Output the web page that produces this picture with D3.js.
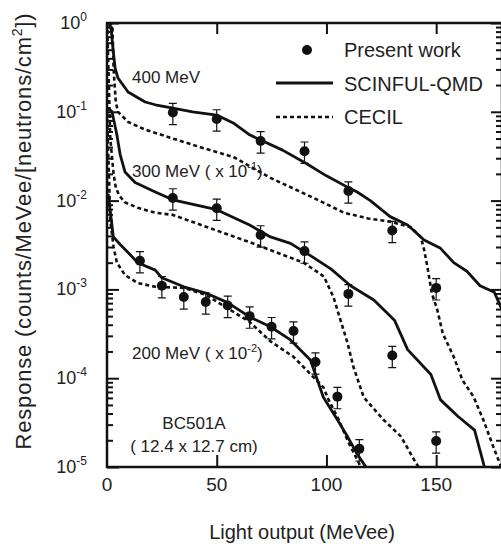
<!DOCTYPE html>
<html>
<head>
<meta charset="utf-8">
<script src="https://cdn.jsdelivr.net/npm/d3@7"></script>
<style>
body { margin: 0; background: #fff; }
text { font-family: "Liberation Sans", Arial, sans-serif; fill: #222; }
</style>
</head>
<body>
<script>
// canvas size and plot box
var width = 501;
var height = 545;
var boxLeft = 107, boxRight = 502, boxTop = 23, boxBottom = 467;

// measured points (Present work)
var pts400X = [30, 50, 70, 90, 110, 130, 150];
var pts400Y = [0.098, 0.083, 0.047, 0.036, 0.0128, 0.0046, 0.00104];
var pts300X = [30, 50, 70, 90, 110, 130, 150];
var pts300Y = [0.0107, 0.0082, 0.0041, 0.0027, 0.00089, 0.00018, 0.0000196];
var pts200X = [15, 25, 35, 45, 55, 65, 75, 85, 95, 105, 115];
var pts200Y = [0.0021, 0.0011, 0.00082, 0.00072, 0.00066, 0.0005, 0.00038, 0.00034, 0.000152, 0.000062, 0.000016];
var relErr = 0.27;

// SCINFUL-QMD curves
var qmd400X = [0, 2, 2.7, 3.7, 5, 9.6, 17.4, 22, 30, 39, 50, 57.5, 65, 70, 80, 91, 100, 110, 114, 120, 129, 137, 144.5, 152, 158, 164, 170, 176.5, 180];
var qmd400Y = [1.5, 0.8, 0.52, 0.31, 0.24, 0.167, 0.129, 0.12, 0.11, 0.1, 0.092, 0.075, 0.055, 0.048, 0.037, 0.026, 0.019, 0.014, 0.0125, 0.010, 0.0066, 0.0053, 0.0036, 0.0029, 0.002, 0.0016, 0.0011, 0.00093, 0.00059];
var qmd300X = [0.5, 2.3, 4.5, 6, 8.2, 12.8, 22, 30, 50, 65, 74.5, 83.6, 92.7, 102, 111, 121.6, 131, 137, 147.6, 152, 160, 167.5, 172];
var qmd300Y = [0.11, 0.1, 0.055, 0.033, 0.021, 0.016, 0.0125, 0.0102, 0.0079, 0.0053, 0.0039, 0.0033, 0.0024, 0.0017, 0.0011, 0.00076, 0.00045, 0.00021, 0.00011, 0.000057, 0.000037, 0.000026, 0.00001];
var qmd200X = [0.5, 2.9, 6, 9.6, 14, 22, 25, 35, 45, 55, 65, 74.5, 83.6, 92.7, 98.6, 105, 109.6, 114, 118];
var qmd200Y = [0.012, 0.0039, 0.0032, 0.0026, 0.002, 0.00165, 0.00135, 0.00107, 0.00091, 0.00071, 0.00049, 0.00038, 0.00027, 0.00016, 0.000061, 0.000034, 0.000022, 0.000014, 0.00001];

// CECIL curves
var cec400X = [0, 2.5, 3, 4, 5, 9.6, 17.4, 30, 42.5, 57.6, 74.5, 96, 108, 119, 129, 138.5, 143, 144.5, 146, 148, 150.5, 153, 158, 162, 167, 171.5, 176, 180];
var cec400Y = [1.5, 0.9, 0.3, 0.13, 0.1, 0.077, 0.063, 0.05, 0.04, 0.031, 0.018, 0.0102, 0.0073, 0.0063, 0.0058, 0.005, 0.0039, 0.0028, 0.0018, 0.00091, 0.00059, 0.00032, 0.000174, 0.000095, 0.000062, 0.000034, 0.000017, 0.0000095];
var cec300X = [0, 1.5, 3, 4, 5.5, 8, 14, 22, 30, 50, 65, 89.6, 98.8, 103.2, 106.4, 109.6, 112.3, 117, 126, 134, 140, 142];
var cec300Y = [1.2, 0.05, 0.02, 0.014, 0.0115, 0.0096, 0.0083, 0.0073, 0.0069, 0.0046, 0.0034, 0.002, 0.0014, 0.00082, 0.00045, 0.00025, 0.000134, 0.000061, 0.000034, 0.000022, 0.000012, 0.00001];
var cec200X = [0, 1.5, 3, 4.5, 8.2, 14, 22, 35, 45, 65, 74.5, 85, 98.6, 101, 105.6, 110, 115.7];
var cec200Y = [0.1, 0.006, 0.003, 0.002, 0.00145, 0.00118, 0.00107, 0.00104, 0.00087, 0.00043, 0.00026, 0.000174, 0.000079, 0.000057, 0.000034, 0.000019, 0.00001];

// tick values
var xTicks = [0, 50, 100, 150];
var yMajor = [1, 0.1, 0.01, 0.001, 0.0001, 0.00001];
var yExp = ["0", "-1", "-2", "-3", "-4", "-5"];

var holder = d3.select("body")
    .append("svg")
    .attr("width", width)
    .attr("height", height);

var xScale = d3.scaleLinear().domain([0, 180]).range([boxLeft, boxRight]);
var yScale = d3.scaleLog().domain([1e-5, 1]).range([boxBottom, boxTop]);

// minor log ticks 2..9 in each decade
var yMinor = [];
yMajor.slice(1).forEach(function(d) {
  for (var k = 2; k <= 9; k++) yMinor.push(d * k);
});

holder.append("defs").append("clipPath").attr("id", "plotClip")
    .append("rect")
    .attr("x", boxLeft).attr("y", boxTop)
    .attr("width", boxRight - boxLeft).attr("height", boxBottom - boxTop);

// axes with ticks pointing inwards
function drawAxis(axis, tx, ty) {
  var g = holder.append("g")
      .attr("transform", "translate(" + tx + "," + ty + ")")
      .call(axis);
  g.select(".domain").remove();
  g.selectAll("line").attr("stroke", "#111").attr("stroke-width", 2);
  g.selectAll("text").remove();
}

drawAxis(d3.axisLeft(yScale).tickValues(yMajor).tickSize(-12), boxLeft, 0);
drawAxis(d3.axisLeft(yScale).tickValues(yMinor).tickSize(-6), boxLeft, 0);
drawAxis(d3.axisRight(yScale).tickValues(yMajor).tickSize(-11), boxRight, 0);
drawAxis(d3.axisRight(yScale).tickValues(yMinor).tickSize(-6), boxRight, 0);
drawAxis(d3.axisBottom(xScale).tickValues([50, 100, 150]).tickSize(-12), 0, boxBottom);
drawAxis(d3.axisTop(xScale).tickValues([50, 100, 150]).tickSize(-11), 0, boxTop);

// frame
holder.append("rect")
    .attr("x", boxLeft).attr("y", boxTop)
    .attr("width", boxRight - boxLeft).attr("height", boxBottom - boxTop)
    .attr("fill", "none")
    .attr("stroke", "#111")
    .attr("stroke-width", 2.5);

// tick labels
holder.selectAll(".xlab")
    .data(xTicks)
    .enter().append("text")
    .attr("x", function(d) { return xScale(d); })
    .attr("y", boxBottom + 24)
    .attr("text-anchor", "middle")
    .attr("font-size", "19px")
    .text(function(d) { return d; });

var ylab = holder.selectAll(".ylab")
    .data(yMajor)
    .enter().append("text")
    .attr("x", 87)
    .attr("y", function(d) { return yScale(d) + 6; })
    .attr("text-anchor", "end")
    .attr("font-size", "18px");
ylab.append("tspan").text("10");
ylab.append("tspan")
    .attr("dy", -8)
    .attr("font-size", "12px")
    .text(function(d, i) { return yExp[i]; });

// curves
var line = d3.line()
    .x(function(d) { return xScale(d[0]); })
    .y(function(d) { return yScale(d[1]); });

var curves = holder.append("g").attr("clip-path", "url(#plotClip)");

function drawCurve(xs, ys, dashed) {
  curves.append("path")
      .datum(d3.zip(xs, ys))
      .attr("d", line)
      .attr("fill", "none")
      .attr("stroke", "#111")
      .attr("stroke-width", dashed ? 2.6 : 2.8)
      .attr("stroke-linejoin", "round")
      .attr("stroke-dasharray", dashed ? "4,3" : null);
}

drawCurve(qmd400X, qmd400Y, false);
drawCurve(qmd300X, qmd300Y, false);
drawCurve(qmd200X, qmd200Y, false);
drawCurve(cec400X, cec400Y, true);
drawCurve(cec300X, cec300Y, true);
drawCurve(cec200X, cec200Y, true);

// data points with error bars
function drawPoints(xs, ys) {
  var data = d3.zip(xs, ys);
  var g = holder.append("g");
  g.selectAll(".err")
      .data(data)
      .enter().append("path")
      .attr("d", function(d) {
        var x = xScale(d[0]);
        var y1 = yScale(d[1] * (1 + relErr));
        var y2 = yScale(d[1] * (1 - relErr));
        return "M" + (x - 4) + "," + y1 + "H" + (x + 4) +
               "M" + x + "," + y1 + "V" + y2 +
               "M" + (x - 4) + "," + y2 + "H" + (x + 4);
      })
      .attr("stroke", "#111")
      .attr("stroke-width", 1.2)
      .attr("fill", "none");
  g.selectAll("circle")
      .data(data)
      .enter().append("circle")
      .attr("cx", function(d) { return xScale(d[0]); })
      .attr("cy", function(d) { return yScale(d[1]); })
      .attr("r", 5)
      .attr("fill", "#111");
}

drawPoints(pts400X, pts400Y);
drawPoints(pts300X, pts300Y);
drawPoints(pts200X, pts200Y);

// annotations
function label(x, y, size, parts) {
  var t = holder.append("text")
      .attr("x", x).attr("y", y)
      .attr("font-size", size + "px");
  parts.forEach(function(p) {
    var s = t.append("tspan").text(p[0]);
    if (p[1]) s.attr("dy", p[1]);
    if (p[2]) s.attr("font-size", p[2] + "px");
  });
  return t;
}

label(132, 83, 17, [["400 MeV"]]);
label(132, 177, 17, [["300 MeV ( x 10"], ["-1", -7, 11], [")", 7]]);
label(132, 359, 17, [["200 MeV ( x 10"], ["-2", -7, 11], [")", 7]]);
label(194, 429, 17, [["BC501A"]]).attr("text-anchor", "middle");
label(194, 452, 17, [["( 12.4 x 12.7 cm)"]]).attr("text-anchor", "middle");

// legend
holder.append("circle").attr("cx", 307).attr("cy", 50).attr("r", 5).attr("fill", "#111");
holder.append("line").attr("x1", 276).attr("x2", 333).attr("y1", 83).attr("y2", 83)
    .attr("stroke", "#111").attr("stroke-width", 2.8);
holder.append("line").attr("x1", 276).attr("x2", 333).attr("y1", 117).attr("y2", 117)
    .attr("stroke", "#111").attr("stroke-width", 2.6).attr("stroke-dasharray", "4,3");
label(344, 57, 20, [["Present work"]]);
label(344, 91, 20, [["SCINFUL-QMD"]]);
label(344, 124, 20, [["CECIL"]]);

// axis titles
label(302, 539, 20, [["Light output (MeVee)"]]).attr("text-anchor", "middle");
holder.append("text")
    .attr("transform", "translate(31,231) rotate(-90)")
    .attr("text-anchor", "middle")
    .attr("font-size", "22px")
    .attr("letter-spacing", "0.8px")
    .call(function(t) {
      t.append("tspan").text("Response (counts/MeVee/[neutrons/cm");
      t.append("tspan").attr("dy", -9).attr("font-size", "14px").text("2");
      t.append("tspan").attr("dy", 9).text("])");
    });
</script>
</body>
</html>
